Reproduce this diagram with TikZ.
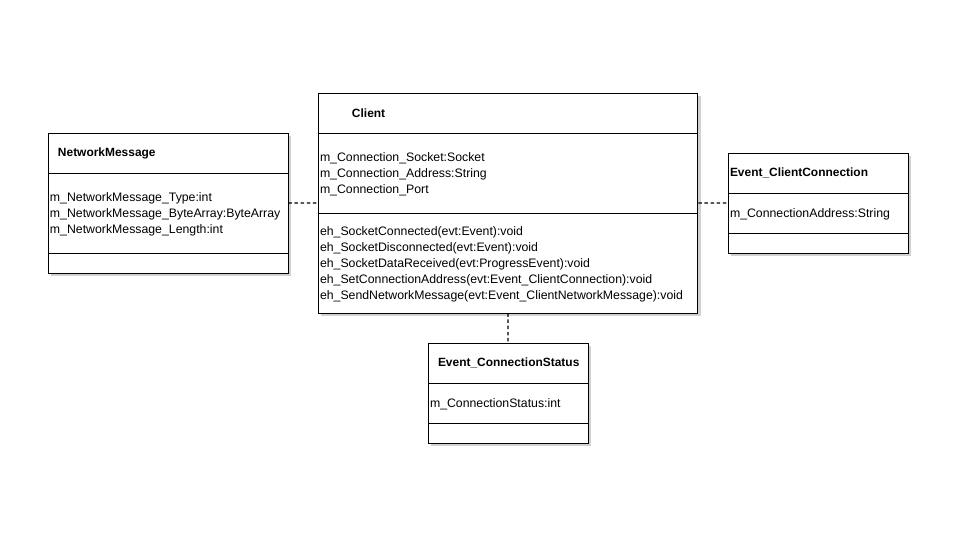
\documentclass[tikz,border=0pt]{standalone}
\usepackage{fontspec}
\setmainfont{Liberation Sans}
\usetikzlibrary{positioning,fit,shadows}

\begin{document}
\begin{tikzpicture}[x=0.02cm,y=-0.02cm,font=\fontsize{7pt}{9.07pt}\selectfont,
  part/.style={draw,line width=.5pt,fill=white,outer sep=0pt,inner xsep=0.04cm,inner ysep=0pt,text width=#1,align=left,
    drop shadow={shadow xshift=0.06cm,shadow yshift=-0.06cm,fill=black!18,opacity=1}},
  members/.style={execute at begin node={\rule{0pt}{6.6pt}}},
  title/.style={font=\fontsize{6.8pt}{9.07pt}\selectfont\bfseries},
  dep/.style={line width=.65pt,dash pattern=on 2pt off 1.5pt}]
\useasboundingbox (0,0) rectangle (960,540);
% NetworkMessage
\node[part=4.72cm,title,minimum height=0.8cm,anchor=north west] (nmTitle) at (48,133) {\hspace*{0.16cm}NetworkMessage};
\node[part=4.72cm,members,minimum height=1.6cm,below=0pt of nmTitle] (nmAttr) {m\_NetworkMessage\_Type:int\\m\_NetworkMessage\_ByteArray:ByteArray\\m\_NetworkMessage\_Length:int};
\node[part=4.72cm,minimum height=0.4cm,below=0pt of nmAttr] (nmOps) {};
\node[fit=(nmTitle)(nmOps),inner sep=0pt] (nm) {};
% Client
\node[part=7.52cm,title,minimum height=0.8cm,anchor=north west] (clTitle) at (318,93) {\hspace*{0.64cm}Client};
\node[part=7.52cm,members,minimum height=1.6cm,below=0pt of clTitle] (clAttr) {m\_Connection\_Socket:Socket\\m\_Connection\_Address:String\\m\_Connection\_Port};
\node[part=7.52cm,members,minimum height=2cm,below=0pt of clAttr] (clOps) {eh\_SocketConnected(evt:Event):void\\eh\_SocketDisconnected(evt:Event):void\\eh\_SocketDataReceived(evt:ProgressEvent):void\\eh\_SetConnectionAddress(evt:Event\_ClientConnection):void\\eh\_SendNetworkMessage(evt:Event\_ClientNetworkMessage):void};
\node[fit=(clTitle)(clOps),inner sep=0pt] (client) {};
% Event_ClientConnection
\node[part=3.52cm,title,minimum height=0.8cm,anchor=north west] (eccTitle) at (728,153) {Event\_ClientConnection};
\node[part=3.52cm,members,minimum height=0.8cm,below=0pt of eccTitle] (eccAttr) {m\_ConnectionAddress:String};
\node[part=3.52cm,minimum height=0.4cm,below=0pt of eccAttr] (eccOps) {};
\node[fit=(eccTitle)(eccOps),inner sep=0pt] (ecc) {};
% Event_ConnectionStatus
\node[part=3.12cm,title,minimum height=0.8cm,anchor=north west] (ecsTitle) at (428,343) {\hspace*{0.16cm}Event\_ConnectionStatus};
\node[part=3.12cm,members,minimum height=0.8cm,below=0pt of ecsTitle] (ecsAttr) {m\_ConnectionStatus:int};
\node[part=3.12cm,minimum height=0.4cm,below=0pt of ecsAttr] (ecsOps) {};
\node[fit=(ecsTitle)(ecsOps),inner sep=0pt] (ecs) {};
% dependencies
\draw[dep] (nm) -- (client);
\draw[dep] (client) -- (ecc);
\draw[dep] (client) -- (ecs);
\end{tikzpicture}
\end{document}
